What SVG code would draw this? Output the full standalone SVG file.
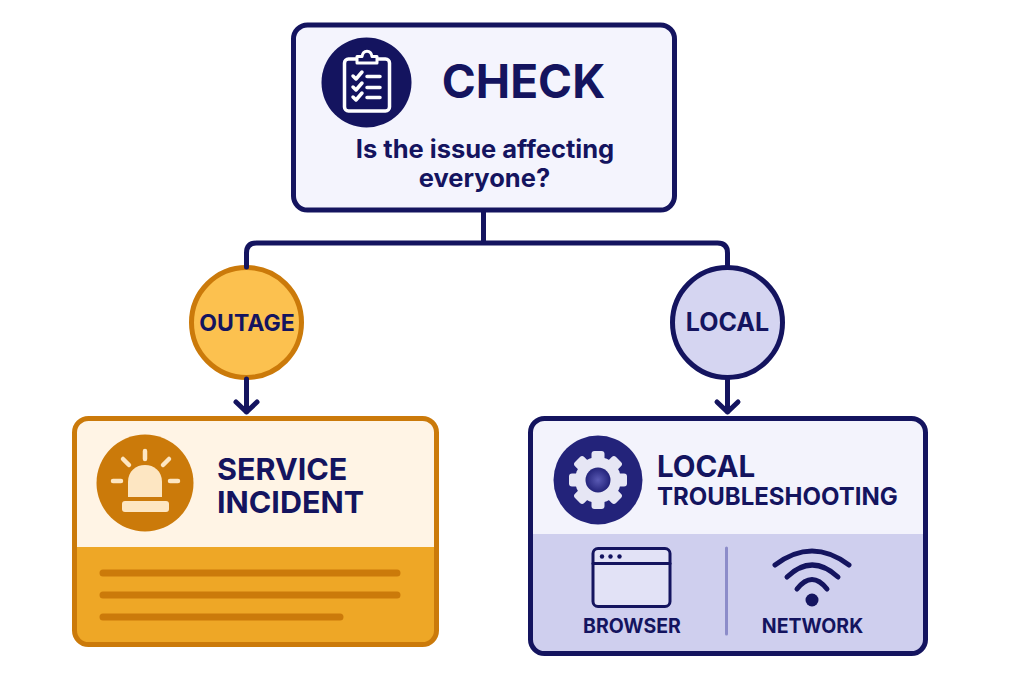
<svg xmlns="http://www.w3.org/2000/svg" width="1024" height="683" viewBox="0 0 1024 683">
<style>
text{font-family:"Inter","Liberation Sans",sans-serif;font-weight:700;fill:#14145f}
.mid{text-anchor:middle}
.conn{fill:none;stroke:#14145f;stroke-width:5;stroke-linecap:round;stroke-linejoin:round}
.navy{fill:none;stroke:#14145f;stroke-linecap:round;stroke-linejoin:round}
.wh{fill:none;stroke:#fff;stroke-width:3.500;stroke-linecap:round;stroke-linejoin:round}
.ray{fill:none;stroke:#fde6c2;stroke-width:4.500;stroke-linecap:round}
.bar{fill:none;stroke:#cb7a0a;stroke-width:7;stroke-linecap:round}
</style>
<defs>
<radialGradient id="hub"><stop offset="0" stop-color="#5a5ab4"/><stop offset="1" stop-color="#23237a"/></radialGradient>
<clipPath id="incClip"><rect x="74.500" y="418.500" width="362" height="226" rx="14"/></clipPath>
<clipPath id="locClip"><rect x="530.500" y="418.500" width="395" height="235" rx="14"/></clipPath>
</defs>
<rect width="1024" height="683" fill="#fff"/>

<g id="node-check">
<rect x="293.500" y="25" width="381" height="185" rx="14" fill="#f4f4fd" stroke="#14145f" stroke-width="5"/>
<circle cx="366.500" cy="82.500" r="45" fill="#14145f"/>
<rect x="344.500" y="59" width="45" height="52" rx="4" class="wh"/>
<path d="M357 63V56.500H362C363 49.500 371 49.500 372 56.500H377V63Z" fill="#14145f" stroke="#fff" stroke-width="3" stroke-linejoin="round"/>
<path d="M353 76l3 3 6-7M353 87l3 3 6-7M353 97l3 3 6-7" class="wh"/>
<path d="M367 76.500H380M367 87.500H380M367 97.500H380" class="wh"/>
<text x="523.500" y="98" class="mid" font-size="46">CHECK</text>
<text x="485" y="157.500" class="mid" font-size="25.500">Is the issue affecting</text>
<text x="484.500" y="186.500" class="mid" font-size="25.500">everyone?</text>
</g>

<g id="node-outage">
<circle cx="246.500" cy="322.500" r="55" fill="#fcc14f" stroke="#cb7a0a" stroke-width="5"/>
<text x="247" y="330.500" class="mid" font-size="23">OUTAGE</text>
</g>

<g id="node-local">
<circle cx="727.500" cy="322.500" r="55" fill="#d5d5f1" stroke="#14145f" stroke-width="5"/>
<text x="727.500" y="330.500" class="mid" font-size="25">LOCAL</text>
</g>

<g id="node-incident">
<g clip-path="url(#incClip)">
<rect x="74" y="418" width="363" height="129" fill="#fff4e5"/>
<rect x="74" y="547" width="363" height="98" fill="#eea726"/>
</g>
<rect x="74.500" y="418.500" width="362" height="226" rx="14" fill="none" stroke="#cb7a0a" stroke-width="5"/>
<circle cx="145" cy="483" r="48.500" fill="#cb7a0a"/>
<path d="M128 497V482C128 471 136 465 145 465C154 465 162 471 162 482V497Z" fill="#fde6c2"/>
<rect x="122" y="501" width="47" height="11" rx="3" fill="#fde6c2"/>
<path d="M145 451V459M123 459L129 465M169 459L163 465M113 481H121M170 481H178" class="ray"/>
<path d="M103 573H397M103 595H397M103 617H340" class="bar"/>
<text x="217" y="480" font-size="30.500">SERVICE</text>
<text x="217" y="513" font-size="30.500">INCIDENT</text>
</g>

<g id="node-troubleshooting">
<g clip-path="url(#locClip)">
<rect x="530" y="418" width="396" height="116" fill="#f3f3fc"/>
<rect x="530" y="534" width="396" height="120" fill="#cfcfee"/>
</g>
<rect x="530.500" y="418.500" width="395" height="235" rx="14" fill="none" stroke="#14145f" stroke-width="5"/>
<circle cx="598" cy="480" r="44.500" fill="#23237a"/>
<g fill="#e6e6f4">
<circle cx="598" cy="480" r="23"/>
<rect x="591.500" y="451" width="13" height="58" rx="3"/>
<rect x="591.500" y="451" width="13" height="58" rx="3" transform="rotate(45 598 480)"/>
<rect x="591.500" y="451" width="13" height="58" rx="3" transform="rotate(90 598 480)"/>
<rect x="591.500" y="451" width="13" height="58" rx="3" transform="rotate(135 598 480)"/>
</g>
<circle cx="598" cy="480" r="12.500" fill="url(#hub)"/>
<text x="657" y="476.500" font-size="29.500">LOCAL</text>
<text x="657" y="505" font-size="24">TROUBLESHOOTING</text>
<rect x="593" y="548.500" width="77" height="58" rx="5" fill="#e2e2f6" stroke="#14145f" stroke-width="3"/>
<path d="M593 563.500H670" class="navy" stroke-width="3"/>
<circle cx="602" cy="556.500" r="2.200" fill="#14145f"/>
<circle cx="610.500" cy="556.500" r="2.200" fill="#14145f"/>
<circle cx="619.500" cy="556.500" r="2.200" fill="#14145f"/>
<path d="M726.500 548V634" fill="none" stroke="#8c8cc9" stroke-width="3" stroke-linecap="round"/>
<path d="M775 565Q812 537 849 565M787 577Q812 553 838 577M797 589Q812 570 827 589" class="navy" stroke-width="5"/>
<circle cx="812" cy="600" r="6.500" fill="#14145f"/>
<text x="632" y="633" class="mid" font-size="19.500">BROWSER</text>
<text x="812.500" y="633" class="mid" font-size="19.500">NETWORK</text>
</g>

<g id="connectors">
<path d="M483.500 212V243M246.500 267V253Q246.500 243 256.500 243H717.500Q727.500 243 727.500 253V267" class="conn"/>
<path d="M246.500 379V412M236 402L246.500 412L257 402" class="conn"/>
<path d="M727.500 379V412M717 402L727.500 412L738 402" class="conn"/>
</g>
</svg>
